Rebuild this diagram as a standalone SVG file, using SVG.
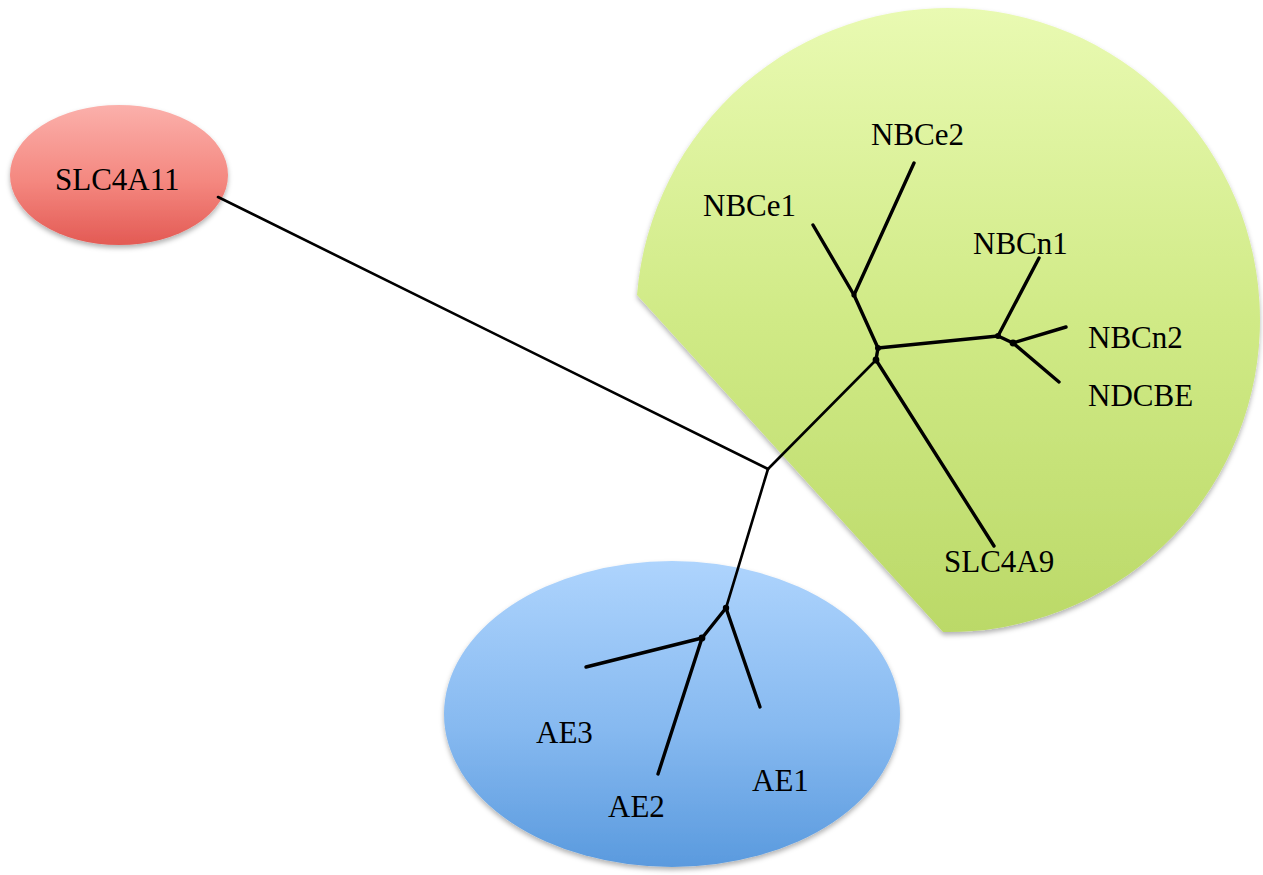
<svg xmlns="http://www.w3.org/2000/svg" width="1263" height="875" viewBox="0 0 1263 875">
  <defs>
    <linearGradient id="gGreen" x1="0" y1="0" x2="0" y2="1">
      <stop offset="0" stop-color="#e9fab2"/>
      <stop offset="0.5" stop-color="#d0ea86"/>
      <stop offset="1" stop-color="#bbd968"/>
    </linearGradient>
    <linearGradient id="gRed" x1="0" y1="0" x2="0" y2="1">
      <stop offset="0" stop-color="#fbb0ab"/>
      <stop offset="0.55" stop-color="#f4877f"/>
      <stop offset="1" stop-color="#e35a54"/>
    </linearGradient>
    <linearGradient id="gBlue" x1="0" y1="0" x2="0" y2="1">
      <stop offset="0" stop-color="#aed4fd"/>
      <stop offset="0.55" stop-color="#86b9f0"/>
      <stop offset="1" stop-color="#5a9ade"/>
    </linearGradient>
    <filter id="shade" x="-10%" y="-10%" width="120%" height="125%">
      <feDropShadow dx="0" dy="3" stdDeviation="2.5" flood-color="#000" flood-opacity="0.3"/>
    </filter>
  </defs>
  <style>
    .lbl { font-family: "Liberation Serif", "Times New Roman", serif; font-size: 31px; fill: #000; }
    .br { stroke: #000; stroke-width: 3.4; stroke-linecap: round; stroke-linejoin: round; fill: none; }
    .thin { stroke-width: 2.6; }
    .jn { fill: #000; }
  </style>

  <rect width="1263" height="875" fill="#fff"/>

  <!-- clade shapes -->
  <g id="clade-nbc">
    <path d="M 637 295 A 312 312 0 1 1 943 632 Z" fill="url(#gGreen)" filter="url(#shade)"/>
  </g>
  <g id="clade-ae">
    <ellipse cx="672" cy="714" rx="228" ry="153" fill="url(#gBlue)" filter="url(#shade)"/>
  </g>
  <g id="node-slc4a11">
    <ellipse cx="119" cy="175" rx="109" ry="70" fill="url(#gRed)" filter="url(#shade)"/>
    <text class="lbl" x="55" y="190">SLC4A11</text>
  </g>

  <!-- tree branches -->
  <g id="branches">
    <line class="br thin" x1="218" y1="197" x2="768" y2="469"/>
    <line class="br thin" x1="768" y1="469" x2="876" y2="360"/>
    <line class="br thin" x1="768" y1="469" x2="726" y2="608"/>
    <!-- SLC4A9 -->
    <line class="br" x1="876" y1="360" x2="994" y2="546"/>
    <line class="br" x1="876" y1="360" x2="878" y2="348"/>
    <!-- NBCe group -->
    <line class="br" x1="878" y1="348" x2="854" y2="295"/>
    <line class="br" x1="854" y1="295" x2="813" y2="225"/>
    <line class="br" x1="854" y1="295" x2="914" y2="163"/>
    <!-- NBCn group -->
    <line class="br" x1="878" y1="348" x2="998" y2="336"/>
    <line class="br" x1="998" y1="336" x2="1039" y2="258"/>
    <line class="br" x1="998" y1="336" x2="1013" y2="343"/>
    <line class="br" x1="1013" y1="343" x2="1066" y2="327"/>
    <line class="br" x1="1013" y1="343" x2="1059" y2="382"/>
    <!-- AE group -->
    <line class="br" x1="726" y1="608" x2="760" y2="707"/>
    <line class="br" x1="726" y1="608" x2="702" y2="638"/>
    <line class="br" x1="702" y1="638" x2="586" y2="667"/>
    <line class="br" x1="702" y1="638" x2="658" y2="774"/>
    <!-- junction knots -->
    <circle class="jn" cx="876" cy="360" r="3.4"/>
    <circle class="jn" cx="878" cy="348" r="3"/>
    <circle class="jn" cx="854" cy="295" r="2.6"/>
    <circle class="jn" cx="998" cy="336" r="3"/>
    <circle class="jn" cx="1013" cy="343" r="3.4"/>
    <circle class="jn" cx="726" cy="608" r="3.2"/>
    <circle class="jn" cx="702" cy="638" r="3.4"/>
  </g>

  <!-- leaf labels -->
  <g id="node-nbce2"><text class="lbl" x="871" y="145">NBCe2</text></g>
  <g id="node-nbce1"><text class="lbl" x="703" y="216">NBCe1</text></g>
  <g id="node-nbcn1"><text class="lbl" x="973" y="254">NBCn1</text></g>
  <g id="node-nbcn2"><text class="lbl" x="1088" y="348">NBCn2</text></g>
  <g id="node-ndcbe"><text class="lbl" x="1088" y="406">NDCBE</text></g>
  <g id="node-slc4a9"><text class="lbl" x="944" y="572">SLC4A9</text></g>
  <g id="node-ae3"><text class="lbl" x="536" y="743">AE3</text></g>
  <g id="node-ae2"><text class="lbl" x="608" y="817">AE2</text></g>
  <g id="node-ae1"><text class="lbl" x="752" y="791">AE1</text></g>
</svg>
